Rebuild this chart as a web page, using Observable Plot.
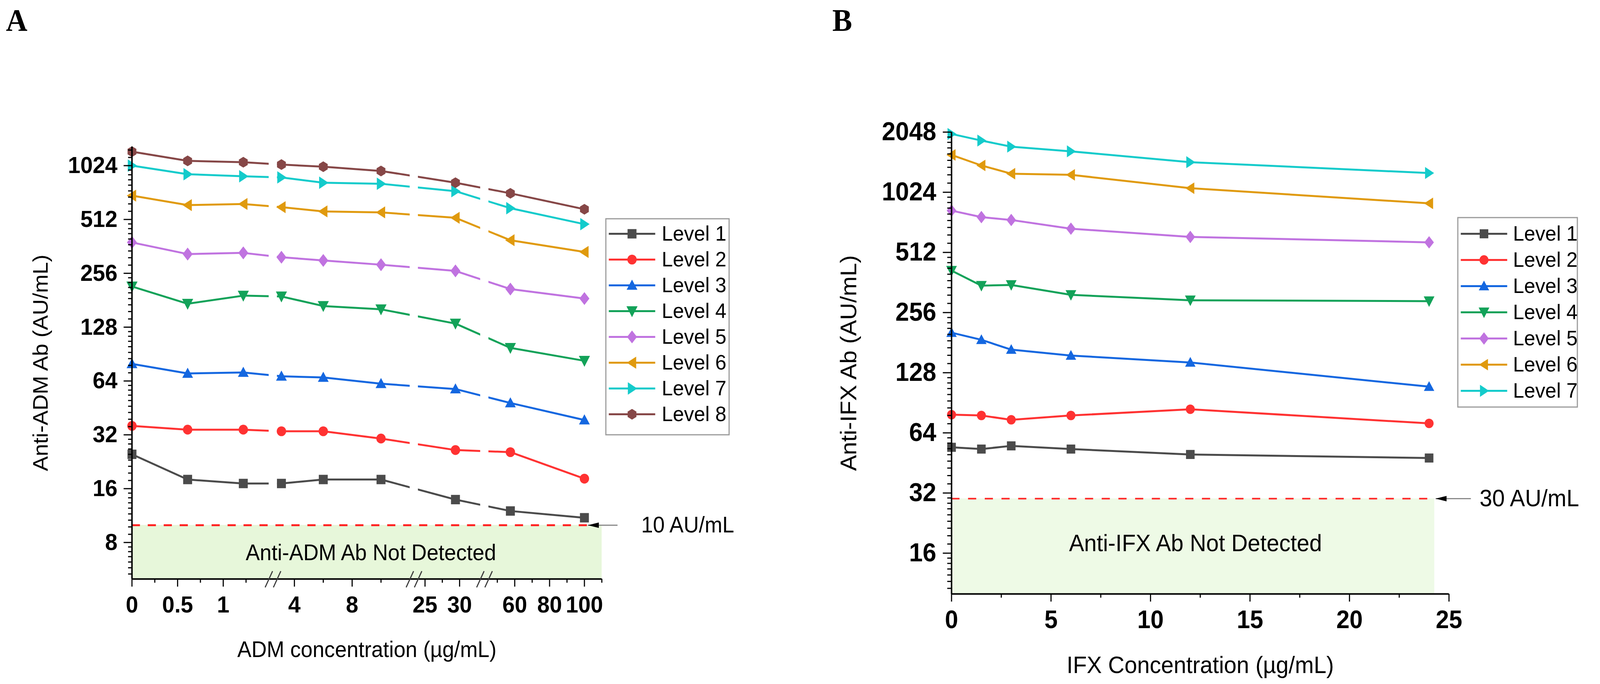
<!DOCTYPE html>
<html>
<head>
<meta charset="utf-8">
<script src="https://cdn.jsdelivr.net/npm/d3@7"></script>
<script src="https://cdn.jsdelivr.net/npm/@observablehq/plot@0.6"></script>
<style>
  html, body { margin: 0; padding: 0; background: #ffffff; overflow: hidden; }
  #root { position: absolute; left: 0; top: 0; width: 4310px; height: 1751px; overflow: hidden; background: #ffffff;
          font-family: "Liberation Sans", Arial, sans-serif; transform-origin: 0 0; }
  #root svg { position: absolute; max-width: none; }
  .panel-label { position: absolute; font-family: "Liberation Serif", "Times New Roman", serif;
                 font-weight: bold; font-size: 80px; line-height: 1; color: #000; }
</style>
</head>
<body>
<div id="root"></div>
<script>
// ---------------- DATA ----------------
const levelNames = ["Level 1", "Level 2", "Level 3", "Level 4", "Level 5", "Level 6", "Level 7", "Level 8"];

// Panel A: ADM concentration (µg/mL) vs Anti-ADM Ab (AU/mL)
const admConc   = [0, 0.61, 1.22, 3.1, 6, 10, 29.4, 57.5, 100];
const admLevel1 = [24.9, 18.0, 17.1, 17.1, 18.0, 18.0, 13.9, 12.0, 11.0];
const admLevel2 = [35.9, 34.2, 34.2, 33.5, 33.5, 30.5, 26.3, 25.6, 18.2];
const admLevel3 = [79.8, 70.5, 71.4, 68, 67, 61.8, 57.7, 48.2, 38.7];
const admLevel4 = [216, 173, 192, 190, 168, 161, 134, 98, 83];
const admLevel5 = [381, 328, 333, 315, 302, 286, 264, 209, 185];
const admLevel6 = [696, 616, 625, 600, 568, 561, 523, 392, 337];
const admLevel7 = [1024, 917, 893, 880, 822, 811, 737, 592, 482];
const admLevel8 = [1226, 1089, 1070, 1038, 1010, 956, 822, 717, 584];

// Panel B: IFX concentration (µg/mL) vs Anti-IFX Ab (AU/mL)
const ifxConc   = [0, 1.5, 3, 6, 12, 24];
const ifxLevel1 = [54.2, 53.1, 55.1, 53.1, 49.9, 47.9];
const ifxLevel2 = [78.9, 78.2, 74.4, 78.2, 84, 71.4];
const ifxLevel3 = [203, 187, 167, 156, 144, 109];
const ifxLevel4 = [415, 349, 352, 314, 295, 292];
const ifxLevel5 = [829, 769, 744, 673, 612, 575];
const ifxLevel6 = [1574, 1395, 1268, 1252, 1073, 901];
const ifxLevel7 = [2005, 1858, 1732, 1641, 1448, 1278];

// Tick values / labels
const admTickValues = [0, 0.5, 1, 4, 8, 25, 30, 60, 80, 100];
const admTickLabels = ["0", "0.5", "1", "4", "8", "25", "30", "60", "80", "100"];
const admMinorTicks = [0.25, 0.75, 1.25, 6, 10, 27.5, 50, 70, 90, 110];
const ifxTickValues = [0, 5, 10, 15, 20, 25];
const ifxMinorTicks = [2.5, 7.5, 12.5, 17.5, 22.5];
const yTicksA = [8, 16, 32, 64, 128, 256, 512, 1024];
const yTicksB = [16, 32, 64, 128, 256, 512, 1024, 2048];

// Cut-offs
const cutoffA = 10;
const cutoffB = 30;
const cutoffLabelA = "10 AU/mL";
const cutoffLabelB = "30 AU/mL";

// ---------------- STYLE / LAYOUT ----------------
const colors = ["#4b4b4b", "#ff3232", "#1467e0", "#13a259", "#c073e0", "#e09a0e", "#14cbcb", "#864747"];
const FONT = "Liberation Sans, Arial, sans-serif";

function polySymbol(pts) {
  return {
    draw(ctx, size) {
      const r = Math.sqrt(size / Math.PI);
      ctx.moveTo(pts[0][0] * r, pts[0][1] * r);
      for (let i = 1; i < pts.length; i++) ctx.lineTo(pts[i][0] * r, pts[i][1] * r);
      ctx.closePath();
    }
  };
}
const circleSym = { draw(ctx, size) { const r = Math.sqrt(size / Math.PI) * 0.9; ctx.moveTo(r, 0); ctx.arc(0, 0, r, 0, 2 * Math.PI); } };
const hexPts = d3.range(6).map(k => { const a = (-90 + 60 * k) * Math.PI / 180; return [0.98 * Math.cos(a), 0.98 * Math.sin(a)]; });
const symbols = [
  polySymbol([[-0.86, -0.86], [0.86, -0.86], [0.86, 0.86], [-0.86, 0.86]]),  // square
  circleSym,                                                                  // circle
  polySymbol([[0, -1.05], [1.04, 0.8], [-1.04, 0.8]]),                        // triangle up
  polySymbol([[0, 1.1], [1.07, -0.9], [-1.07, -0.9]]),                        // triangle down
  polySymbol([[0, -1.18], [0.96, 0], [0, 1.18], [-0.96, 0]]),                 // diamond
  polySymbol([[-1.0, 0], [0.8, -1.1], [0.8, 1.1]]),                           // triangle left
  polySymbol([[1.0, 0], [-0.8, -1.14], [-0.8, 1.14]]),                        // triangle right
  polySymbol(hexPts)                                                          // hexagon
];
const arrowHead = polySymbol([[0, 0], [2.1, -0.5], [2.1, 0.5]]);

// Broken x axis for panel A
const admSegments = [[0, 1.5], [2.8, 12], [24, 33], [45, 110]];
const admSegmentWidths = [368.7, 357.6, 167.7, 305];
const admGap = 22.2;
const segOffsets = [];
let acc = 0;
admSegments.forEach((s, i) => { segOffsets.push(acc); acc += admSegmentWidths[i] + (i < admSegments.length - 1 ? admGap : 0); });
const admVirtualMax = acc;
function brokenX(v) {
  for (let i = 0; i < admSegments.length; i++) {
    const [a, b] = admSegments[i];
    if (v <= b || i === admSegments.length - 1) return segOffsets[i] + (v - a) / (b - a) * admSegmentWidths[i];
  }
}
const gaps = admSegments.slice(0, -1).map((s, i) => [segOffsets[i] + admSegmentWidths[i], segOffsets[i + 1]]);
const slashes = gaps.flatMap(g => [g[0], g[1]]);

function minorLogTicks(lo, hi) {
  const out = [];
  for (let p = Math.pow(2, Math.floor(Math.log2(lo))); p < hi; p *= 2)
    for (let k = 1; k <= 8; k++) { const v = p * (1 + k / 9); if (v > lo && v < hi) out.push(v); }
  return out;
}

const root = document.getElementById("root");

// ---------------- PANEL A ----------------
const seriesA = [admLevel1, admLevel2, admLevel3, admLevel4, admLevel5, admLevel6, admLevel7, admLevel8]
  .map((vals, i) => vals.map((v, j) => ({ level: levelNames[i], x: admConc[j], y: v })));
const yDomA = [5, 1307];
const admLabelMap = new Map(admTickValues.map((v, i) => [brokenX(v), admTickLabels[i]]));

const plotA = Plot.plot({
  width: 2160, height: 1751,
  marginLeft: 355, marginRight: 539.3, marginTop: 375, marginBottom: 269.3,
  style: { fontFamily: FONT, background: "transparent", overflow: "visible" },
  x: { domain: [0, admVirtualMax], axis: null, label: null },
  y: { type: "log", base: 2, domain: yDomA, axis: null, label: null },
  marks: [
    Plot.rect([0], { x1: 0, x2: admVirtualMax, y1: yDomA[0], y2: cutoffA, fill: "#e7f7da" }),
    Plot.ruleY([cutoffA], { x1: 0, x2: brokenX(102), stroke: "#ff2525", strokeWidth: 5, strokeDasharray: "22,21" }),
    ...seriesA.map((d, i) => Plot.line(d, { x: p => brokenX(p.x), y: "y", stroke: colors[i], strokeWidth: 5, strokeLinejoin: "round" })),
    Plot.rect(gaps, { x1: g => g[0], x2: g => g[1], y1: cutoffA * 1.03, y2: yDomA[1], fill: "#ffffff" }),
    ...seriesA.map((d, i) => Plot.dot(d, { x: p => brokenX(p.x), y: "y", r: 14, symbol: symbols[i], fill: colors[i] })),
    Plot.ruleX([0], { stroke: "#000", strokeWidth: 4 }),
    Plot.ruleY([yDomA[0]], { stroke: "#000", strokeWidth: 4 }),
    Plot.axisY(minorLogTicks(yDomA[0], yDomA[1]), { anchor: "left", tickSize: 10, tickFormat: () => "", strokeWidth: 3, label: null }),
    Plot.axisY(yTicksA, { anchor: "left", tickSize: 22, tickPadding: 17, tickFormat: d => String(d), fontSize: 60, fontWeight: "bold", fontFamily: FONT, strokeWidth: 3, label: null }),
    Plot.axisX(admMinorTicks.map(brokenX), { anchor: "bottom", tickSize: 10, tickFormat: () => "", strokeWidth: 3, label: null }),
    Plot.axisX(admTickValues.map(brokenX), { anchor: "bottom", tickSize: 20, tickPadding: 23, tickFormat: v => admLabelMap.get(v), fontSize: 60, fontWeight: "bold", fontFamily: FONT, strokeWidth: 3, label: null }),
    Plot.link(slashes, { x1: s => s - 10, x2: s => s + 10, y1: 4.49, y2: 5.53, stroke: "#3a3a3a", strokeWidth: 3 }),
    Plot.text(["Anti-ADM Ab Not Detected"], { x: brokenX(9.3), y: 7.0, text: d => d, fontSize: 57, fontFamily: FONT, lineAnchor: "middle" }),
    Plot.link([cutoffA], { x1: brokenX(102), x2: brokenX(119), y1: d => d, y2: d => d, stroke: "#8a8a8a", strokeWidth: 3 }),
    Plot.dot([cutoffA], { x: brokenX(102), y: d => d, r: 14, symbol: arrowHead, fill: "#000" }),
    Plot.text([cutoffLabelA], { x: brokenX(132.6), y: cutoffA, text: d => d, textAnchor: "start", fontSize: 57, fontFamily: FONT }),
    Plot.text(["Anti-ADM Ab (AU/mL)"], { frameAnchor: "left", rotate: -90, textAnchor: "middle", lineAnchor: "middle", dx: -245, text: d => d, fontSize: 57, fontFamily: FONT }),
    Plot.text(["ADM concentration (\u00b5g/mL)"], { frameAnchor: "bottom", textAnchor: "middle", lineAnchor: "top", dy: 159, text: d => d, fontSize: 57, fontFamily: FONT })
  ]
});
plotA.style.left = "0px"; plotA.style.top = "0px";
root.appendChild(plotA);

// ---------------- PANEL B ----------------
const seriesB = [ifxLevel1, ifxLevel2, ifxLevel3, ifxLevel4, ifxLevel5, ifxLevel6, ifxLevel7]
  .map((vals, i) => vals.map((v, j) => ({ level: levelNames[i], x: ifxConc[j], y: v })));
const yDomB = [10, 2048];
const bandEndB = 24.27;

const plotB = Plot.plot({
  width: 2150, height: 1751,
  marginLeft: 402.7, marginRight: 407.3, marginTop: 337.7, marginBottom: 231,
  style: { fontFamily: FONT, background: "transparent", overflow: "visible" },
  x: { domain: [0, 25], axis: null, label: null },
  y: { type: "log", base: 2, domain: yDomB, axis: null, label: null },
  marks: [
    Plot.rect([0], { x1: 0, x2: bandEndB, y1: yDomB[0], y2: cutoffB, fill: "#eefae6" }),
    Plot.ruleY([cutoffB], { x1: 0, x2: bandEndB, stroke: "#ff2525", strokeWidth: 4, strokeDasharray: "22,23" }),
    ...seriesB.map((d, i) => Plot.line(d, { x: "x", y: "y", stroke: colors[i], strokeWidth: 5, strokeLinejoin: "round" })),
    ...seriesB.map((d, i) => Plot.dot(d, { x: "x", y: "y", r: 13.5, symbol: symbols[i], fill: colors[i] })),
    Plot.ruleX([0], { stroke: "#000", strokeWidth: 4 }),
    Plot.ruleY([yDomB[0]], { stroke: "#000", strokeWidth: 4 }),
    Plot.axisY(minorLogTicks(yDomB[0], yDomB[1]), { anchor: "left", tickSize: 11, tickFormat: () => "", strokeWidth: 3, label: null }),
    Plot.axisY(yTicksB, { anchor: "left", tickSize: 23, tickPadding: 18, tickFormat: d => String(d), fontSize: 66, fontWeight: "bold", fontFamily: FONT, strokeWidth: 3, label: null }),
    Plot.axisX(ifxMinorTicks, { anchor: "bottom", tickSize: 10, tickFormat: () => "", strokeWidth: 3, label: null }),
    Plot.axisX(ifxTickValues, { anchor: "bottom", tickSize: 20, tickPadding: 22, tickFormat: d => String(d), fontSize: 64, fontWeight: "bold", fontFamily: FONT, strokeWidth: 3, label: null }),
    Plot.text(["Anti-IFX Ab Not Detected"], { x: 12.26, y: 17.9, text: d => d, fontSize: 61, fontFamily: FONT, lineAnchor: "middle" }),
    Plot.link([cutoffB], { x1: 24.33, x2: 26.1, y1: d => d, y2: d => d, stroke: "#8a8a8a", strokeWidth: 3 }),
    Plot.dot([cutoffB], { x: 24.33, y: d => d, r: 14, symbol: arrowHead, fill: "#000" }),
    Plot.text([cutoffLabelB], { x: 26.54, y: cutoffB, text: d => d, textAnchor: "start", fontSize: 61, fontFamily: FONT }),
    Plot.text(["Anti-IFX Ab (AU/mL)"], { frameAnchor: "left", rotate: -90, textAnchor: "middle", lineAnchor: "middle", dx: -275.7, text: d => d, fontSize: 61, fontFamily: FONT }),
    Plot.text(["IFX Concentration (\u00b5g/mL)"], { frameAnchor: "bottom", textAnchor: "middle", lineAnchor: "top", dy: 159, text: d => d, fontSize: 61, fontFamily: FONT })
  ]
});
plotB.style.left = "2160px"; plotB.style.top = "0px";
root.appendChild(plotB);

// ---------------- LEGENDS ----------------
function makeLegend(names, cfg) {
  const n = names.length;
  const marks = [Plot.frame({ stroke: "#9a9a9a", strokeWidth: 3, inset: 1.5, fill: "#ffffff" })];
  names.forEach((name, i) => {
    marks.push(Plot.ruleY([name], { y: d => d, x1: cfg.lineX1, x2: cfg.lineX2, stroke: colors[i], strokeWidth: 5 }));
    marks.push(Plot.dot([name], { x: cfg.markerX, y: d => d, r: cfg.r, symbol: symbols[i], fill: colors[i] }));
  });
  marks.push(Plot.text(names, { x: cfg.textX, y: d => d, text: d => d, textAnchor: "start", fontSize: cfg.fontSize, fontFamily: FONT }));
  const svg = Plot.plot({
    width: cfg.width, height: cfg.height, margin: 0,
    style: { fontFamily: FONT, background: "transparent", overflow: "visible" },
    x: { domain: [0, cfg.width], range: [0, cfg.width], axis: null },
    y: { type: "point", padding: 0, domain: names, range: [cfg.rowTop, cfg.rowTop + cfg.rowStep * (n - 1)], axis: null },
    marks
  });
  svg.style.left = cfg.left + "px"; svg.style.top = cfg.top + "px";
  return svg;
}
root.appendChild(makeLegend(levelNames, {
  left: 1630, top: 558, width: 335, height: 556, rowTop: 39, rowStep: 66.3,
  lineX1: 10, lineX2: 135, markerX: 72, textX: 152, fontSize: 54, r: 14
}));
root.appendChild(makeLegend(levelNames.slice(0, 7), {
  left: 3925, top: 555, width: 325, height: 488, rowTop: 41, rowStep: 67.5,
  lineX1: 10, lineX2: 135, markerX: 72, textX: 150, fontSize: 54, r: 13.5
}));

// ---------------- PANEL LABELS ----------------
[["A", 16], ["B", 2242]].forEach(([t, x]) => {
  const d = document.createElement("div");
  d.className = "panel-label"; d.textContent = t;
  d.style.left = x + "px"; d.style.top = "12px";
  root.appendChild(d);
});

// ---------------- FIT TO VIEWPORT ----------------
const vw = window.innerWidth || document.documentElement.clientWidth;
const vh = window.innerHeight || document.documentElement.clientHeight;
if (vw && vh && (Math.abs(vw - 4310) > 2 || Math.abs(vh - 1751) > 2)) {
  root.style.transform = "scale(" + (vw / 4310) + "," + (vh / 1751) + ")";
}
</script>
</body>
</html>
